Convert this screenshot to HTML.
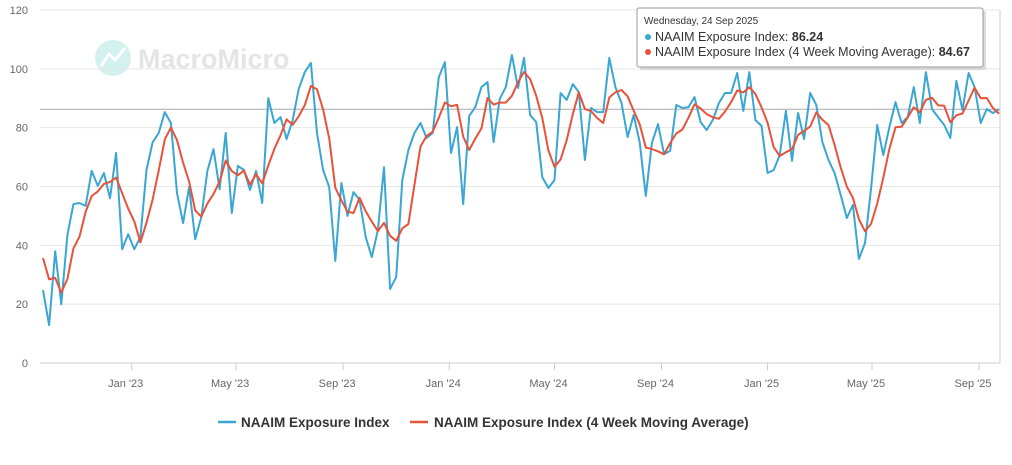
<!DOCTYPE html>
<html><head><meta charset="utf-8">
<style>
body{margin:0;background:#fff;font-family:"Liberation Sans",sans-serif;}
#wrap{position:relative;width:1012px;height:465px;overflow:hidden;}
svg text{font-family:"Liberation Sans",sans-serif;}
</style></head>
<body>
<div id="wrap">
<svg id="chart" width="1012" height="465"></svg>
</div>
<script>
const yTicks=[0,20,40,60,80,100,120];
const tickMonths=["2023-01-01","2023-05-01","2023-09-01","2024-01-01","2024-05-01","2024-09-01","2025-01-01","2025-05-01","2025-09-01"];
const tickLabels=["Jan '23","May '23","Sep '23","Jan '24","May '24","Sep '24","Jan '25","May '25","Sep '25"];
const priorWeeks=[42,36,40];
const naaim=[24.8,12.9,38,20,43.5,54,54.4,53.4,65.3,60.2,64.6,56,71.4,38.7,43.8,38.7,42.8,65.6,75,78.2,85.3,81.6,57.8,47.6,59.8,42.1,49.6,65.3,72.7,59.1,78.2,51,67,65.6,58.8,65.3,54.4,90,81.6,83.6,76.1,82.6,
93.1,98.9,102,78.2,65.6,59.8,34.7,61.2,50,58.1,55.4,42.8,36,45.2,66.6,25.2,29.2,62.2,72.4,78.2,81.6,76.5,78.2,97.2,102.3,71.4,80.2,54,84,87,93.8,95.5,75.1,89.7,93.8,104.7,93.5,103.7,
84.3,81.9,63.2,59.5,62.2,91.8,89.4,94.8,92.1,69,86.7,85.3,85.3,103.7,93.8,88.4,76.8,84.3,75.1,56.8,74.8,81.2,71,72.1,87.7,86.7,87,90.4,81.9,79.2,82.6,88.4,91.8,91.8,98.6,85.7,98.9,82.6,80.6,64.6,
65.6,70.7,85.7,68.7,85,76.1,91.8,87.7,75.1,69,64.6,57.1,49.3,53.7,35.4,40.8,59.5,80.9,70.7,80.2,88.7,81.6,83.6,93.8,81.6,98.9,86.3,83.6,80.9,76.5,95.9,86,98.6,93.8,81.6,86.3,85,86.24];
const lastDate="2025-09-24";

const svg=document.getElementById('chart');
const NS='http://www.w3.org/2000/svg';
function mk(tag,attrs,parent){const e=document.createElementNS(NS,tag);for(const k in attrs)e.setAttribute(k,attrs[k]);(parent||svg).appendChild(e);return e;}
const X0=43,X1=999,Y0=363,Ytop=10;
const N=naaim.length;
const tEnd=new Date(lastDate).getTime();
const tStart=tEnd-(N-1)*7*864e5;
function xT(t){return X0+(t-tStart)/(tEnd-tStart)*(X1-X0);}
function xI(i){return xT(tStart+i*7*864e5);}
function yV(v){return Y0-(v/120)*(Y0-Ytop);}

// watermark
const wm=mk('g',{});


mk('circle',{cx:113,cy:58,r:18,fill:'#d3f1ee'},wm);
mk('path',{d:'M101 66 L109 54 L115 60 L125 48',stroke:'#fff','stroke-width':3,fill:'none'},wm);
const wt=mk('text',{x:138,y:68,'font-size':27,'font-weight':'bold',fill:'#e4e4e4'},wm);wt.textContent='MacroMicro';

// grid and y labels
yTicks.forEach(v=>{
  const g=mk('line',{x1:40,x2:1000,y1:yV(v),y2:yV(v),stroke:v===0?'#ccc':'#e6e6e6','stroke-width':1});
  
  
  const t=mk('text',{x:28,y:yV(v)+4,'font-size':11,fill:'#666','text-anchor':'end'});
  t.textContent=v;
  
  
});
// x ticks
tickMonths.forEach((m,i)=>{
  const x=xT(new Date(m).getTime());
  const l=mk('line',{x1:x,x2:x,y1:Y0,y2:Y0+7,stroke:'#ccc'});
  
  
  const t=mk('text',{x:x-6,y:387,'font-size':11,fill:'#666','text-anchor':'middle'});
  t.textContent=tickLabels[i];
  
  
});
// crosshair
const ch=mk('line',{x1:40,x2:1000,y1:yV(naaim[N-1]),y2:yV(naaim[N-1]),stroke:'#aaa','stroke-width':1});


const cv=mk('line',{x1:1000,x2:1000,y1:Ytop,y2:Y0,stroke:'#ccc','stroke-width':1});



// series
const all=priorWeeks.concat(naaim);
const ma=naaim.map((v,i)=>{const s=all.slice(i,i+4);return s.reduce((a,b)=>a+b,0)/4;});
const pb=naaim.map((v,i)=>(i?'L':'M')+xI(i).toFixed(1)+' '+yV(v).toFixed(1)).join(' ');
const pr=ma.map((v,i)=>(i?'L':'M')+xI(i).toFixed(1)+' '+yV(v).toFixed(1)).join(' ');
const lb=mk('path',{d:pb,stroke:'#3aa6d3','stroke-width':2,fill:'none','stroke-linejoin':'round'});


const lr=mk('path',{d:pr,stroke:'#e8523a','stroke-width':2,fill:'none','stroke-linejoin':'round'});



// legend
const lg=mk('g',{});


const le1=mk('g',{},lg);


mk('line',{x1:218,x2:236,y1:422,y2:422,stroke:'#3aa6d3','stroke-width':2.5},le1);
const lt1=mk('text',{x:241,y:427,'font-size':13.5,'font-weight':'bold',fill:'#333'},le1);lt1.textContent='NAAIM Exposure Index';
const le2=mk('g',{},lg);


mk('line',{x1:410,x2:428,y1:422,y2:422,stroke:'#e8523a','stroke-width':2.5},le2);
const lt2=mk('text',{x:434,y:427,'font-size':13.5,'font-weight':'bold',fill:'#333'},le2);lt2.textContent='NAAIM Exposure Index (4 Week Moving Average)';

// tooltip
const tp=mk('g',{});


mk('rect',{x:640,y:11,width:346,height:59,fill:'#bbb',opacity:0.5,rx:2},tp);
mk('rect',{x:637,y:8,width:346,height:59,fill:'#fff',stroke:'#999','stroke-width':1,rx:2},tp);
const td=mk('text',{x:644,y:24,'font-size':10,fill:'#333'},tp);td.textContent='Wednesday, 24 Sep 2025';
mk('circle',{cx:648,cy:37,r:3,fill:'#3aa6d3'},tp);
const t1=mk('text',{x:655,y:41,'font-size':12.5,fill:'#333'},tp);
t1.innerHTML='NAAIM Exposure Index: <tspan font-weight="bold">86.24</tspan>';
mk('circle',{cx:648,cy:52,r:3,fill:'#e8523a'},tp);
const t2=mk('text',{x:655,y:56,'font-size':12.5,fill:'#333'},tp);
t2.innerHTML='NAAIM Exposure Index (4 Week Moving Average): <tspan font-weight="bold">84.67</tspan>';
</script>
</body></html>
